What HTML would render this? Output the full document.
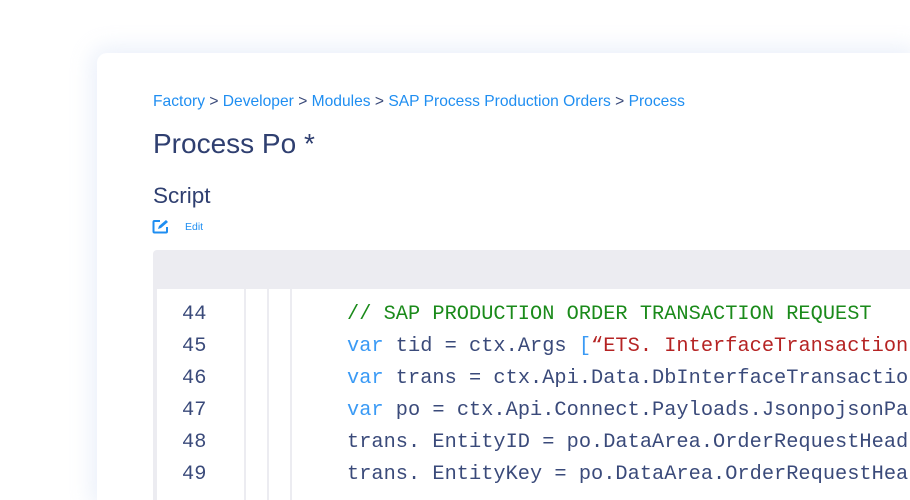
<!DOCTYPE html>
<html><head><meta charset="utf-8"><style>
html,body{margin:0;padding:0;width:910px;height:500px;overflow:hidden;background:#fff;font-family:"Liberation Sans",sans-serif;position:relative;}
.card{position:absolute;left:97px;top:53px;width:813px;height:447px;background:#fff;border-radius:10px 0 0 0;box-shadow:0 0 22px 6px rgba(210,222,245,0.45);}
.bc{position:absolute;left:153px;top:93px;font-size:15.6px;color:#1f8ef1;white-space:nowrap;}
.bc span{color:#3a4a7a;}
.title{position:absolute;left:153px;top:128px;font-size:28px;color:#2f3f70;}
.script{position:absolute;left:153px;top:183px;font-size:22.5px;color:#2f3f70;}
.edit{position:absolute;left:185px;top:221px;font-size:10.5px;color:#1f8ef1;}
.ed{position:absolute;left:153px;top:250px;width:757px;height:250px;background:#fff;border-radius:4px 0 0 0;overflow:hidden;}
.edh{position:absolute;left:0;top:0;right:0;height:39px;background:#ececf1;}
.edl{position:absolute;left:0;top:39px;width:4px;bottom:0;background:#ececf1;}
.vl{position:absolute;top:289px;width:2px;height:211px;background:#ececf1;}
.code{position:absolute;font-family:"Liberation Mono",monospace;font-size:20.3px;letter-spacing:0.03px;color:#3a4a7a;white-space:pre;line-height:32px;}
.c{color:#1a8a1a}.k{color:#3a9af5}.s{color:#b52323}
</style></head><body>
<div class="card"></div>
<div class="bc">Factory <span>&gt;</span> Developer <span>&gt;</span> Modules <span>&gt;</span> SAP Process Production Orders <span>&gt;</span> Process</div>
<div class="title">Process Po *</div>
<div class="script">Script</div>
<svg style="position:absolute;left:152px;top:219px" width="18" height="15" viewBox="0 0 18 15"><path d="M8 2H2.5Q1.5 2 1.5 3V12.5Q1.5 13.5 2.5 13.5H14Q15 13.5 15 12.5V8" fill="none" stroke="#1f8ef1" stroke-width="2"/><path d="M6 10L7 7L14 1L16 3L9 9Z" fill="#1f8ef1"/></svg>
<div class="edit">Edit</div>
<div class="ed"><div class="edh"></div><div class="edl"></div></div>
<div class="vl" style="left:244px"></div>
<div class="vl" style="left:267px"></div>
<div class="vl" style="left:290px"></div>
<div class="code" style="left:182px;top:299px">44
45
46
47
48
49</div>
<div class="code" style="left:347px;top:299px"><span class="c">// SAP PRODUCTION ORDER TRANSACTION REQUEST</span>
<span class="k">var</span> tid = ctx.Args <span class="k">[</span><span class="s">“ETS. InterfaceTransaction</span>
<span class="k">var</span> trans = ctx.Api.Data.DbInterfaceTransactio
<span class="k">var</span> po = ctx.Api.Connect.Payloads.JsonpojsonPa
trans. EntityID = po.DataArea.OrderRequestHead
trans. EntityKey = po.DataArea.OrderRequestHea</div>
</body></html>
